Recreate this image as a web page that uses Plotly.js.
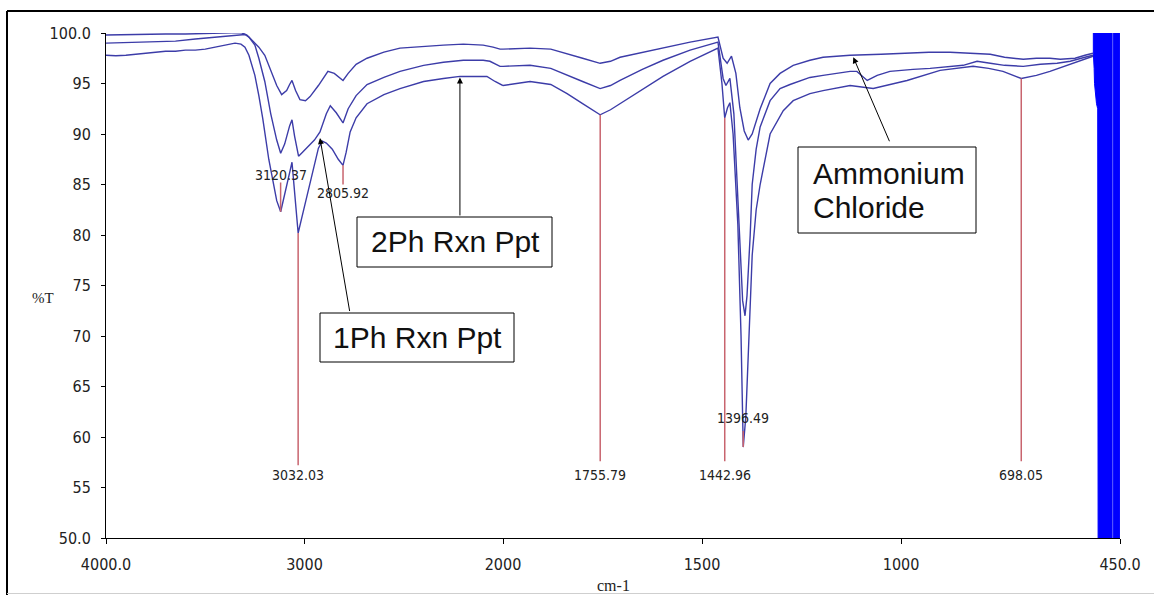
<!DOCTYPE html>
<html>
<head>
<meta charset="utf-8">
<script src="https://cdn.plot.ly/plotly-3.0.1.min.js"></script>
<style>html,body{margin:0;padding:0;background:#fff;}#chart{width:1154px;height:595px;}</style>
</head>
<body>
<div id="chart"></div>
<script>
// ---- Data (wavenumber cm-1, %T) ----
const ammWn = [4000,3900,3800,3700,3600,3500,3400,3320,3290,3260,3230,3200,3170,3140,3115,3090,3075,3063,3045,3023,2995,2972,2930,2882,2850,2820,2806,2780,2740,2685,2600,2519,2400,2300,2200,2100,2050,2015,2000,1932,1880,1839,1800,1756,1730,1706,1650,1598,1530,1460,1447,1437,1426,1415,1405,1394,1384,1374,1364,1354,1329,1304,1271,1229,1196,1128,1050,985,930,877,830,776,740,693,660,626,600,563,538,518];
const ammT = [99.8,99.85,99.85,99.9,99.9,99.95,100.0,100.05,99.8,99.2,98.6,97.8,96.3,94.8,93.9,94.3,94.9,95.3,94.3,93.4,93.3,93.7,94.8,96.2,96.0,95.5,95.3,96.0,96.9,97.5,98.1,98.5,98.7,98.8,98.9,98.8,98.6,98.4,98.4,98.5,98.4,97.9,97.5,97.0,97.2,97.6,98.1,98.5,99.1,99.6,97.5,97.0,97.7,96.0,92.6,90.3,89.4,90.0,91.2,92.5,95.0,96.0,96.8,97.3,97.6,97.8,97.9,98.0,98.1,98.1,98.0,97.9,97.6,97.4,97.5,97.5,97.4,97.5,97.8,98.0];

const ph1Wn = [4000,3900,3800,3650,3550,3450,3350,3300,3280,3250,3230,3200,3170,3140,3120,3100,3075,3063,3050,3030,3010,2980,2950,2922,2890,2870,2840,2806,2780,2740,2685,2600,2519,2400,2300,2200,2100,2066,2030,2015,2000,1932,1880,1839,1800,1756,1730,1706,1650,1598,1530,1460,1447,1440,1430,1420,1412,1405,1398,1392,1387,1379,1374,1364,1354,1329,1304,1279,1229,1196,1128,1111,1085,1060,1028,970,927,844,809,776,740,693,650,608,575,538,518];
const ph1T = [99.0,99.05,99.1,99.2,99.4,99.6,99.8,99.85,99.6,98.8,97.5,95.2,92.0,89.4,88.1,89.0,90.8,91.4,89.8,87.8,88.2,88.8,89.4,90.2,92.0,92.8,92.1,91.1,92.5,93.8,94.9,95.6,96.2,96.8,97.1,97.3,97.3,97.2,96.8,96.7,96.7,96.8,96.5,95.8,95.2,94.5,94.8,95.3,96.4,97.3,98.3,99.1,95.5,94.8,95.5,92.0,85.0,79.0,73.5,72.0,74.0,80.0,85.0,88.5,90.7,93.3,94.5,94.9,95.6,95.8,96.2,96.2,95.3,95.8,96.2,96.4,96.5,96.8,97.2,97.0,96.8,96.7,96.9,97.0,97.2,97.6,97.8];

const ph2Wn = [4000,3950,3900,3850,3800,3750,3700,3650,3600,3550,3500,3450,3400,3350,3320,3300,3280,3250,3230,3210,3180,3160,3140,3120,3105,3090,3070,3063,3055,3045,3032,3015,2990,2960,2930,2910,2890,2860,2830,2806,2790,2770,2740,2685,2600,2519,2400,2300,2217,2150,2081,2040,2000,1932,1880,1839,1800,1756,1730,1706,1650,1598,1530,1460,1450,1443,1436,1430,1422,1410,1402,1396.5,1390,1384,1374,1364,1354,1329,1296,1271,1229,1196,1128,1070,985,902,819,780,744,698,660,626,575,538,518];
const ph2T = [97.8,97.75,97.8,97.9,97.95,98.1,98.2,98.2,98.3,98.3,98.4,98.6,98.8,99.0,98.9,98.6,97.8,95.8,93.8,91.5,87.5,85.4,83.4,82.3,83.5,84.8,86.6,87.2,85.5,83.0,80.2,81.6,83.6,86.2,88.6,89.3,89.1,88.5,87.5,86.9,88.2,90.2,91.6,93.0,93.9,94.5,95.2,95.5,95.7,95.7,95.7,95.2,94.8,95.2,94.9,94.0,93.0,91.9,92.4,93.0,94.4,95.7,97.2,98.5,95.0,91.6,92.6,93.1,90.0,81.0,70.0,59.0,62.0,68.0,78.0,82.5,85.0,90.0,92.3,93.3,94.0,94.3,94.8,94.5,95.3,96.3,96.7,96.5,96.2,95.5,95.8,96.2,96.9,97.4,97.7];

// detector cut-off region (solid blue band), two blocks
const noise1Wn = [517,517,515,514,509,506,505,470,470];
const noise1T  = [100.3,98.0,96.5,95.0,93.0,92.5,49.5,49.5,100.3];
const noise2Wn = [467,467,451,451];
const noise2T  = [100.3,49.5,49.5,100.3];

// peak picks
const peakWn = [3120.37,3032.03,2805.92,1755.79,1442.96,1396.49,698.05];
const peakLabels = ['3120.37','3032.03','2805.92','1755.79','1442.96','1396.49','698.05'];
const peakT = [82.3,80.2,86.9,91.9,91.6,59.0,95.5];
const dropEnd = [85.2,57.2,85.0,57.6,57.6,60.6,57.6];
const labelT = [85.9,56.2,84.2,56.2,56.2,61.9,56.2];

const yTickVals = [50,55,60,65,70,75,80,85,90,95,100];
const yTickText = ['50.0','55','60','65','70','75','80','85','90','95','100.0'];
const x1TickVals = [4000,3000];
const x1TickText = ['4000.0','3000'];
const x2TickVals = [2000,1500,1000,450];
const x2TickText = ['2000','1500','1000','450.0'];

// ---- layout geometry ----
const L=106, R=1120, T=33, B=538;
const split = 2000;
const d = (4000-split)*0.1985/(R-L); // fraction of plot width used by the 4000-2000 half
const px = p => (p-L)/(R-L);
const py = p => (B-p)/(B-T);

const lineColor = '#3c3ca8';
const narrow = '"Liberation Sans Narrow","Arial Narrow","DejaVu Sans Condensed",sans-serif';

function splitSeries(wn, t){
  const a={x:[],y:[]}, b={x:[],y:[]};
  wn.forEach((w,i)=>{
    if(w>=split){a.x.push(w);a.y.push(t[i]);}
    if(w<=split){b.x.push(w);b.y.push(t[i]);}
  });
  return [a,b];
}

const traces=[];
[[ammWn,ammT],[ph1Wn,ph1T],[ph2Wn,ph2T]].forEach(([w,t])=>{
  const [a,b]=splitSeries(w,t);
  traces.push({x:a.x,y:a.y,xaxis:'x',yaxis:'y',mode:'lines',line:{color:lineColor,width:1.4},hoverinfo:'skip'});
  traces.push({x:b.x,y:b.y,xaxis:'x2',yaxis:'y',mode:'lines',line:{color:lineColor,width:1.4},hoverinfo:'skip'});
});

// drop lines
const d1={x:[],y:[]}, d2={x:[],y:[]};
peakWn.forEach((w,i)=>{
  const tgt = w>=split? d1 : d2;
  tgt.x.push(w,w,null); tgt.y.push(peakT[i],dropEnd[i],null);
});
traces.push({x:d1.x,y:d1.y,xaxis:'x',yaxis:'y',mode:'lines',line:{color:'#c8646e',width:1.5},hoverinfo:'skip'});
traces.push({x:d2.x,y:d2.y,xaxis:'x2',yaxis:'y',mode:'lines',line:{color:'#c8646e',width:1.5},hoverinfo:'skip'});

// noise blocks
traces.push({x:noise1Wn,y:noise1T,xaxis:'x2',yaxis:'y',mode:'lines',fill:'toself',fillcolor:'#0000ff',line:{color:'#0000ff',width:1},hoverinfo:'skip'});
traces.push({x:noise2Wn,y:noise2T,xaxis:'x2',yaxis:'y',mode:'lines',fill:'toself',fillcolor:'#0000ff',line:{color:'#0000ff',width:1},hoverinfo:'skip'});

const annotations=[];
peakWn.forEach((w,i)=>{
  annotations.push({x:w,y:labelT[i],xref:w>=split?'x':'x2',yref:'y',text:peakLabels[i],showarrow:false,
    xanchor:'center',yanchor:'middle',font:{family:narrow,size:14,color:'#222'}});
});
// arrows
const arrowStyle={showarrow:true,arrowhead:2,arrowsize:1.2,arrowwidth:1,arrowcolor:'#000',standoff:0,text:' ',font:{size:1},axref:'pixel',ayref:'pixel'};
annotations.push(Object.assign({},arrowStyle,{x:2217,y:95.6,xref:'x',yref:'y',ax:0,ay:140}));
annotations.push(Object.assign({},arrowStyle,{x:2922,y:89.6,xref:'x',yref:'y',ax:30,ay:175}));
annotations.push(Object.assign({},arrowStyle,{x:1120,y:97.6,xref:'x2',yref:'y',ax:37,ay:86}));

const boxFont={family:'"Liberation Sans",Arial,sans-serif',size:30,color:'#111'};
annotations.push({xref:'paper',yref:'paper',x:px(455),y:py(241),text:'2Ph Rxn Ppt',showarrow:false,xanchor:'center',yanchor:'middle',font:boxFont});
annotations.push({xref:'paper',yref:'paper',x:px(417),y:py(337),text:'1Ph Rxn Ppt',showarrow:false,xanchor:'center',yanchor:'middle',font:boxFont});
annotations.push({xref:'paper',yref:'paper',x:px(811),y:py(173),text:'Ammonium',showarrow:false,xanchor:'left',yanchor:'middle',font:boxFont});
annotations.push({xref:'paper',yref:'paper',x:px(811),y:py(207),text:'Chloride',showarrow:false,xanchor:'left',yanchor:'middle',font:boxFont});
// axis titles
annotations.push({xref:'paper',yref:'paper',x:px(43),y:py(298),text:'%T',showarrow:false,xanchor:'center',yanchor:'middle',font:{family:'"Liberation Serif","Times New Roman",serif',size:15,color:'#222'}});
annotations.push({xref:'paper',yref:'paper',x:px(613),y:py(585),text:'cm-1',showarrow:false,xanchor:'center',yanchor:'middle',font:{family:'"Liberation Serif","Times New Roman",serif',size:16,color:'#222'}});

const rect=(x0,y0,x1,y1)=>({type:'rect',xref:'paper',yref:'paper',x0:px(x0),x1:px(x1),y0:py(y0),y1:py(y1),line:{color:'#000',width:1},fillcolor:'rgba(255,255,255,0)',layer:'above'});
const shapes=[
  rect(357,217,552,267),
  rect(320,313,514,362),
  rect(798,147,976,233),
  {type:'line',xref:'paper',yref:'paper',x0:px(7),x1:px(1160),y0:py(11),y1:py(11),line:{color:'#000',width:2}},
  {type:'line',xref:'paper',yref:'paper',x0:px(7),x1:px(7),y0:py(11),y1:py(600),line:{color:'#000',width:2}},
  {type:'line',xref:'paper',yref:'paper',x0:px(7),x1:px(1160),y0:py(593.5),y1:py(593.5),line:{color:'#cfcfcf',width:1}}
];

const tickFont={family:narrow,size:16,color:'#222'};
const layout={
  width:1154,height:595,
  margin:{l:L,r:1154-R,t:T,b:595-B},
  paper_bgcolor:'#fff',plot_bgcolor:'#fff',
  showlegend:false,
  xaxis:{domain:[0,d],range:[4000,split],anchor:'y',showline:true,linecolor:'#000',linewidth:1,ticks:'outside',ticklen:5,tickcolor:'#000',
    tickvals:x1TickVals,ticktext:x1TickText,showgrid:false,zeroline:false,tickfont:tickFont,ticklabelstandoff:7,fixedrange:true},
  xaxis2:{domain:[d,1],range:[split,450],anchor:'y',showline:true,linecolor:'#000',linewidth:1,ticks:'outside',ticklen:5,tickcolor:'#000',
    tickvals:x2TickVals,ticktext:x2TickText,showgrid:false,zeroline:false,tickfont:tickFont,ticklabelstandoff:7,fixedrange:true},
  yaxis:{range:[50,100],showline:true,linecolor:'#000',linewidth:1,ticks:'outside',ticklen:4,tickcolor:'#000',
    tickvals:yTickVals,ticktext:yTickText,showgrid:false,zeroline:false,tickfont:tickFont,ticklabelstandoff:7,fixedrange:true},
  annotations:annotations,
  shapes:shapes
};
Plotly.newPlot('chart',traces,layout,{staticPlot:true,displayModeBar:false});
</script>
</body>
</html>
